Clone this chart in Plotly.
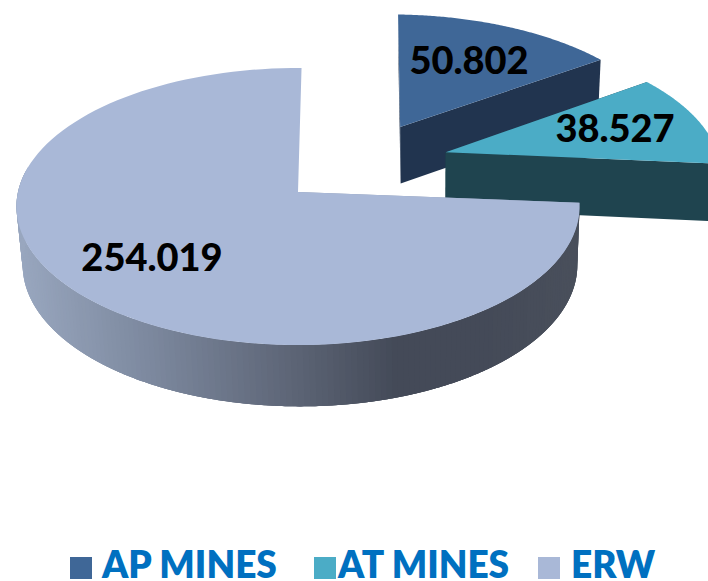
import numpy as np
import plotly.graph_objects as go

# --- chart data ---
categories = ["AP MINES", "AT MINES", "ERW"]
values = [50.802, 38.527, 254.019]
value_labels = ["50.802", "38.527", "254.019"]

# --- look ---
top_colors = ["#3F6797", "#4BACC6", "#A9B8D7"]
cut_colors = ["#21344F", "#1F444F", "#8E9BB4"]
wall_stops_x = [15, 150, 300, 400, 480, 580]
wall_stops_rgb = [(154, 168, 192), (125, 137, 159), (92, 100, 117),
                  (68, 74, 88), (68, 74, 88), (74, 80, 92)]
explode_xy = [(0.384, 0.50), (0.544, 0.30), (0.0, 0.0)]
tilt_deg = [1.7, 1.5, 0.8]
label_xy = [(469, 64), (615, 132), (152, 261)]
swatch_x = [81, 325, 549]
legend_text_x = [102, 338, 571]
swatch_y = 568
legend_text_y = 569
FONT = "Lato"

# --- perspective projection of a disc onto the page ---
CX, CY, RX, RY, K, DEPTH, SHRINK, SHIFT = 298, 192, 280, 137, 0.105, 58, 0.985, 2


def project(px, py, bottom=False):
    w = 1 + K * py
    sx = CX + RX * px / w
    sy = CY - RY * py / w
    if bottom:
        sx = CX + (sx - CX) * SHRINK + SHIFT
        sy = sy + DEPTH / np.sqrt(w)
    return sx, sy


def arc(a0, a1, off, tilt, n=120):
    t = np.radians(np.linspace(a0, a1, n) + tilt)
    return off[0] + np.sin(t), off[1] + np.cos(t)


def poly(fig, xs, ys, color, name=None):
    fig.add_trace(go.Scatter(x=xs, y=ys, mode="none", fill="toself", fillcolor=color,
                             hoverinfo="skip", showlegend=False, name=name))


def wall_color(x):
    c = [np.interp(x, wall_stops_x, [s[i] for s in wall_stops_rgb]) for i in range(3)]
    return "rgb(%d,%d,%d)" % tuple(c)


fig = go.Figure()
shares = np.array(values) / sum(values) * 360
edges = np.concatenate([[0], np.cumsum(shares)])

for i, name in enumerate(categories):
    a0, a1 = edges[i], edges[i + 1]
    off, tilt = explode_xy[i], tilt_deg[i]
    ax, ay = arc(a0, a1, off, tilt)
    # cut faces
    for end in (0, -1):
        if i == 2 and end == -1:
            continue
        tx0, ty0 = project(off[0], off[1])
        tx1, ty1 = project(ax[end], ay[end])
        bx0, by0 = project(off[0], off[1], True)
        bx1, by1 = project(ax[end], ay[end], True)
        poly(fig, [tx0, tx1, bx1, bx0, tx0], [ty0, ty1, by1, by0, ty0], cut_colors[i])
    # front outer wall with a shaded gradient; each band overlaps the next one
    if i == 2:
        wa = np.linspace(a0, a1, 240)
        for j in range(len(wa) - 1):
            sx0, sy0 = arc(wa[j], wa[min(j + 3, len(wa) - 1)], off, tilt, 8)
            if sy0.max() > 0.2:
                continue
            tx, ty = project(sx0, sy0)
            bx, by = project(sx0, sy0, True)
            poly(fig, np.r_[tx, bx[::-1], tx[0]], np.r_[ty, by[::-1], ty[0]],
                 wall_color(float(tx[0])))
    # top face
    tx, ty = project(ax, ay)
    ox, oy = project(off[0], off[1])
    poly(fig, np.r_[ox, tx, ox], np.r_[oy, ty, oy], top_colors[i], name)

# value labels
for (lx, ly), txt in zip(label_xy, value_labels):
    fig.add_trace(go.Scatter(x=[lx], y=[ly], mode="text", text=[txt], showlegend=False,
                             hoverinfo="skip",
                             textfont=dict(family=FONT, size=38, color="black", weight=900)))

# legend row
for sx, tx, name, col in zip(swatch_x, legend_text_x, categories, top_colors):
    fig.add_trace(go.Scatter(x=[sx], y=[swatch_y], mode="markers", showlegend=False,
                             hoverinfo="skip",
                             marker=dict(symbol="square", size=22, color=col)))
    fig.add_trace(go.Scatter(x=[tx], y=[legend_text_y], mode="text", text=[name],
                             textposition="middle right", showlegend=False, hoverinfo="skip",
                             textfont=dict(family=FONT, size=37, color="#0070C0", weight=800)))

fig.update_layout(width=708, height=581, margin=dict(l=0, r=0, t=0, b=0),
                  paper_bgcolor="white", plot_bgcolor="white", showlegend=False,
                  xaxis=dict(range=[0, 708], visible=False, fixedrange=True),
                  yaxis=dict(range=[581, 0], visible=False, fixedrange=True))
fig.write_html("out.html", config={"displayModeBar": False},
               post_script="document.body.style.margin='0';")
